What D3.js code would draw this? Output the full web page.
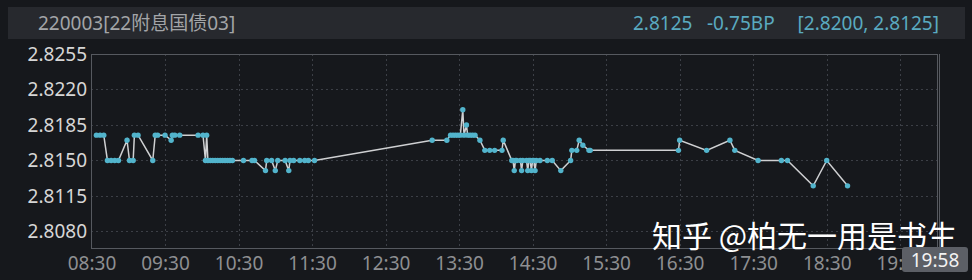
<!DOCTYPE html>
<html>
<head>
<meta charset="utf-8">
<script src="https://cdn.jsdelivr.net/npm/d3@7"></script>
<style>
body { margin: 0; background: #16181c; }
svg { display: block; }
</style>
</head>
<body>
<div id="chart"></div>
<script>
// yield ticks 220003
var times = ["08:34","08:37","08:40","08:43","08:46","08:49","08:52","08:59","09:01","09:04","09:05","09:08",
  "09:20","09:22","09:24","09:30","09:35","09:36","09:38","09:42","09:57","10:01","10:03","10:04","10:05",
  "10:07","10:09","10:11","10:13","10:15","10:17","10:19","10:21","10:23","10:25","10:34","10:41","10:43",
  "10:52","10:53","10:57","11:00","11:02","11:08","11:11","11:12","11:15","11:20","11:24","11:27","11:32",
  "13:08","13:20","13:23","13:25","13:27","13:29","13:31","13:33","13:34","13:36","13:37","13:39","13:41","13:43",
  "13:47","13:51","13:55","13:59","14:05","14:06","14:13","14:14","14:15","14:16","14:17","14:20","14:21",
  "14:22","14:25","14:26","14:27","14:28","14:29","14:30","14:31","14:32","14:33","14:36","14:42","14:46",
  "14:53","15:01","15:02","15:06","15:08","15:11","15:16","15:17","16:29","16:30","16:52","17:11","17:15",
  "17:34","17:53","17:58","18:19","18:30","18:47"];
var values = [2.8175,2.8175,2.8175,2.8150,2.8150,2.8150,2.8150,2.8170,2.8150,2.8150,2.8175,2.8175,
  2.8150,2.8175,2.8175,2.8175,2.8170,2.8175,2.8175,2.8175,2.8175,2.8175,2.8150,2.8175,2.8150,
  2.8150,2.8150,2.8150,2.8150,2.8150,2.8150,2.8150,2.8150,2.8150,2.8150,2.8150,2.8150,2.8150,
  2.8140,2.8150,2.8150,2.8140,2.8150,2.8150,2.8140,2.8150,2.8150,2.8150,2.8150,2.8150,2.8150,
  2.8170,2.8170,2.8175,2.8175,2.8175,2.8175,2.8175,2.8200,2.8175,2.8185,2.8175,2.8175,2.8175,2.8175,
  2.8170,2.8160,2.8160,2.8160,2.8160,2.8170,2.8150,2.8150,2.8140,2.8150,2.8150,2.8150,2.8140,
  2.8150,2.8150,2.8140,2.8150,2.8150,2.8140,2.8150,2.8150,2.8140,2.8150,2.8150,2.8150,2.8150,
  2.8140,2.8150,2.8160,2.8160,2.8170,2.8165,2.8160,2.8160,2.8160,2.8170,2.8160,2.8170,2.8160,
  2.8150,2.8150,2.8150,2.8125,2.8150,2.8125];
var yTicks = [2.8080, 2.8115, 2.8150, 2.8185, 2.8220, 2.8255];
var xTicks = ["08:30","09:30","10:30","11:30","12:30","13:30","14:30","15:30","16:30","17:30","18:30","19:30"];
var title = "220003[22附息国债03]";
var lastValue = "2.8125", change = "-0.75BP", range = "[2.8200, 2.8125]";
var cursorTime = "19:58";

var W = 972, H = 280;
var LEFT = 91, RIGHT = 937, TOP = 54, BOTTOM = 248;
var FONT = "'Noto Sans', 'Noto Sans CJK SC', sans-serif";
var parse = d3.timeParse("%H:%M");

var svg = d3.select("#chart").append("svg")
  .attr("width", W)
  .attr("height", H)
  .style("font-family", FONT)

svg.append("rect").attr("width", W).attr("height", H).attr("fill", "#16181c")

// header bar
svg.append("rect")
  .attr("x", 8).attr("y", 7).attr("width", 957).attr("height", 32)
  .attr("fill", "#27292e")

svg.append("text")
  .text(title)
  .attr("x", 38).attr("y", 30)
  .attr("fill", "#a3a5a8")
  .style("font-size", "19px")

svg.append("text").text(lastValue)
  .attr("x", 633).attr("y", 30).attr("fill", "#5aaac0").style("font-size", "19px")
svg.append("text").text(change)
  .attr("x", 707).attr("y", 30).attr("fill", "#5aaac0").style("font-size", "19px")
svg.append("text").text(range)
  .attr("x", 939).attr("y", 30).attr("fill", "#5aaac0").style("font-size", "19px")
  .style("text-anchor", "end")

var x = d3.scaleTime()
  .domain([parse("08:30"), parse("20:00")])
  .range([LEFT + 0.5, RIGHT])

var y = d3.scaleLinear()
  .domain([2.80637, 2.8255])
  .range([BOTTOM, TOP])

// grid
var grid = svg.append("g").attr("class", "grid")
grid.selectAll(".hgrid")
  .data(yTicks.slice(0, -1)).enter()
  .append("line")
  .attr("x1", LEFT).attr("x2", RIGHT)
  .attr("y1", d => Math.round(y(d)) + 0.5)
  .attr("y2", d => Math.round(y(d)) + 0.5)
  .style("stroke", "#3c3f46")
  .style("stroke-dasharray", "2,3")

grid.selectAll(".vgrid")
  .data(xTicks.slice(1)).enter()
  .append("line")
  .attr("x1", d => Math.round(x(parse(d))) + 0.5)
  .attr("x2", d => Math.round(x(parse(d))) + 0.5)
  .attr("y1", TOP).attr("y2", BOTTOM)
  .style("stroke", "#3c3f46")
  .style("stroke-dasharray", "2,3")

// frame
svg.append("rect")
  .attr("x", LEFT + 0.5).attr("y", TOP + 0.5)
  .attr("width", RIGHT - LEFT).attr("height", BOTTOM - TOP)
  .attr("fill", "none")
  .style("stroke", "#56595f")
svg.append("line")
  .attr("x1", RIGHT + 2.5).attr("x2", RIGHT + 2.5)
  .attr("y1", TOP).attr("y2", BOTTOM + 1)
  .style("stroke", "#56595f")

// axes
var yAxis = svg.append("g")
  .attr("transform", "translate(" + LEFT + ",0)")
  .call(d3.axisLeft(y).tickValues(yTicks).tickFormat(d3.format(".4f")).tickSize(0).tickPadding(4))
yAxis.select(".domain").remove()
yAxis.selectAll("text")
  .attr("fill", "#d6d6d6")
  .style("font-size", "19px")
  .style("font-family", FONT)

var xAxis = svg.append("g")
  .attr("transform", "translate(0," + BOTTOM + ")")
  .call(d3.axisBottom(x).tickValues(xTicks.map(parse)).tickFormat(d3.timeFormat("%H:%M")).tickSize(0).tickPadding(8.5))
xAxis.select(".domain").remove()
xAxis.selectAll("text")
  .attr("fill", "#8e8f92")
  .style("font-size", "19px")
  .style("font-family", FONT)

// series
var data = times.map((t, i) => ({"t": parse(t), "v": values[i]}))

svg.append("path")
  .datum(data)
  .attr("d", d3.line().x(d => x(d.t)).y(d => y(d.v)))
  .style("fill", "none")
  .style("stroke", "#cfd0d2")
  .style("stroke-width", 1.5)

svg.append("g").attr("class", "points")
  .selectAll("circle")
  .data(data).enter()
  .append("circle")
  .attr("cx", d => x(d.t))
  .attr("cy", d => y(d.v))
  .attr("r", 2.7)
  .style("fill", "#52b4cc")

// watermark
svg.append("text")
  .text("知乎 @柏无一用是书生")
  .attr("x", 652).attr("y", 247)
  .attr("fill", "#ffffff")
  .style("font-size", "30px")
  .style("font-family", "'Noto Sans CJK SC', sans-serif")

// cursor time tag
svg.append("rect")
  .attr("x", 902).attr("y", 247).attr("width", 66).attr("height", 25).attr("rx", 3)
  .attr("fill", "#5c5f66")
svg.append("text")
  .text(cursorTime)
  .attr("x", 935).attr("y", 267)
  .attr("fill", "#f2f2f2")
  .style("font-size", "19px")
  .style("text-anchor", "middle")
</script>
</body>
</html>
